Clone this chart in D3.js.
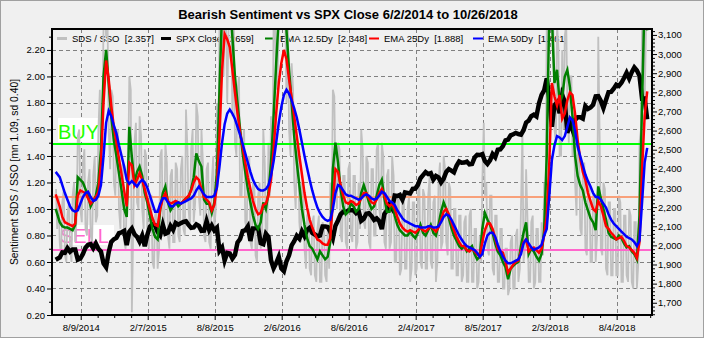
<!DOCTYPE html>
<html>
<head>
<meta charset="utf-8">
<script src="https://cdn.jsdelivr.net/npm/d3@7"></script>
<style>
  body { margin: 0; background: #f0f0f0; }
  svg { display: block; }
  text { font-family: "Liberation Sans", Arial, sans-serif; }
</style>
</head>
<body>
<svg id="chart" width="704" height="338"></svg>
<script>
// ---- data -------------------------------------------------------------
const firstDate = "6/2/2014";
const lastDate = "10/26/2018";

const xTickLabels = ["8/9/2014", "2/7/2015", "8/8/2015", "2/6/2016", "8/6/2016",
                     "2/4/2017", "8/5/2017", "2/3/2018", "8/4/2018"];
const leftTicks = [0.2, 0.4, 0.6, 0.8, 1.0, 1.2, 1.4, 1.6, 1.8, 2.0, 2.2];
const rightTicks = [1700, 1800, 1900, 2000, 2100, 2200, 2300, 2400, 2500,
                    2600, 2700, 2800, 2900, 3000, 3100];

// reference levels: mean + sd, mean, mean - sd
const levelBuy = 1.49, levelMean = 1.09, levelSell = 0.69;

// SDS / SSO ratio, sampled Tuesday and Friday of each week
const sdsSso = [
  1.15,0.85, 1.10,0.75, 0.62,1.05, 1.15,0.65, 0.60,0.95,
  1.05,0.70, 0.60,1.10, 1.20,0.75, 0.95,1.55, 1.60,1.00,
  0.90,1.35, 1.45,0.85, 0.80,1.20, 1.30,0.80, 0.75,1.25,
  1.40,0.90, 0.95,1.60, 1.90,1.40, 1.70,2.40, 2.50,2.30,
  2.40,1.60, 1.30,1.90, 1.85,1.20, 1.10,1.55, 1.60,1.00,
  0.85,1.30, 1.35,0.75, 0.70,1.10, 1.30,2.00, 1.90,0.22,
  0.90,1.50, 1.65,1.05, 1.00,1.70, 1.55,1.00, 0.85,1.45,
  1.40,0.80, 0.70,1.10, 1.10,0.60, 0.55,0.95, 1.00,0.55,
  0.70,1.40, 1.45,0.90, 0.85,1.50, 1.35,0.80, 0.70,1.25,
  1.30,0.75, 0.75,1.35, 1.30,0.80, 0.75,1.30, 1.40,0.85,
  0.80,1.75, 1.45,1.00, 0.85,1.45, 1.60,0.90, 1.05,1.80,
  1.70,1.10, 0.95,1.60, 1.35,0.80, 0.75,1.30, 1.35,0.75,
  0.70,1.20, 1.40,0.85, 1.00,1.80, 1.50,2.40, 2.40,2.40,
  2.00,2.40, 2.40,1.80, 2.40,2.40, 2.40,1.70, 2.40,1.50,
  1.40,1.90, 2.00,1.10, 1.10,1.50, 1.60,0.90, 0.85,1.35,
  1.40,0.75, 0.70,1.20, 1.15,0.65, 0.60,1.10, 1.20,0.70,
  0.80,1.60, 1.35,0.75, 0.85,1.50, 1.10,1.70, 1.40,2.40,
  2.40,1.90, 2.00,2.40, 2.40,2.40, 2.40,2.40, 2.40,1.80,
  2.40,1.60, 1.40,2.10, 1.90,1.20, 1.00,1.40, 1.50,0.90,
  0.75,1.20, 1.15,0.70, 0.55,0.95, 1.00,0.55, 0.50,0.90,
  0.95,0.50, 0.45,0.85, 0.95,0.45, 0.45,0.90, 0.85,0.50,
  0.45,0.85, 0.55,1.20, 1.00,1.90, 1.85,1.20, 1.00,1.50,
  1.45,0.80, 0.75,1.25, 1.25,0.75, 0.70,1.30, 1.35,0.80,
  0.75,1.25, 1.25,0.70, 0.75,1.20, 0.85,1.60, 1.45,0.90,
  0.85,1.40, 1.35,0.75, 0.70,1.30, 1.30,0.80, 0.80,1.45,
  1.50,1.00, 0.90,1.50, 1.40,0.75, 0.70,1.25, 1.30,0.70,
  0.75,1.40, 1.25,0.60, 0.60,1.10, 1.10,0.50, 0.55,1.05,
  1.05,0.55, 0.55,1.00, 1.10,0.45, 0.55,1.05, 1.05,0.50,
  0.55,1.10, 1.20,0.60, 0.55,1.15, 1.10,0.55, 0.55,1.10,
  1.25,0.60, 0.55,1.05, 1.10,0.45, 0.60,1.20, 1.35,0.70,
  0.75,1.40, 1.30,0.75, 0.65,1.20, 1.15,0.55, 0.55,1.00,
  1.00,0.50, 0.50,0.95, 0.95,0.45, 0.50,0.90, 0.95,0.45,
  0.45,0.95, 1.00,0.45, 0.45,0.85, 0.85,0.40, 0.45,0.80,
  0.60,1.20, 1.65,1.10, 1.20,0.70, 0.65,1.10, 1.10,0.55,
  0.50,0.95, 0.95,0.45, 0.45,0.85, 0.85,0.40, 0.40,0.70,
  0.70,0.35, 0.40,0.75, 0.80,0.40, 0.40,0.80, 0.85,0.45,
  0.55,1.00, 1.60,0.60, 0.70,1.30, 0.90,0.45, 0.45,0.90,
  0.95,0.40, 0.45,0.85, 0.85,0.45, 0.45,0.90, 0.65,1.20,
  1.00,2.40, 2.40,2.40, 2.40,2.40, 2.40,1.60, 1.50,2.40,
  2.20,1.40, 1.40,2.20, 1.60,2.30, 2.40,1.80, 1.50,2.00,
  2.00,1.40, 1.70,1.20, 0.95,1.50, 1.45,0.85, 0.80,1.30,
  1.35,0.70, 0.65,1.20, 1.20,0.60, 0.60,1.10, 1.10,0.60,
  0.80,2.30, 1.50,0.70, 0.65,1.20, 1.15,0.55, 0.50,1.05,
  1.05,0.50, 0.50,1.00, 1.00,0.50, 0.50,1.10, 1.05,0.45,
  0.45,0.95, 0.95,0.50, 0.45,1.00, 0.95,0.45, 0.40,0.90,
  0.90,0.40, 0.60,1.50, 1.60,2.40, 2.40,1.80, 2.40,2.357
];

// S&P 500 close, weekly
const spxClose = [
  1925,1937,1963,1961,1985,1967,1978,1978,1925,1931,
  1955,1988,2003,2007,1985,2010,1982,1967,1906,1886,
  1964,2018,2032,2039,2064,2068,2075,2002,2071,2088,
  2058,2045,2019,2051,1995,2055,2097,2110,2105,2071,
  2053,2108,2061,2067,2102,2081,2117,2108,2116,2123,
  2126,2107,2092,2094,2110,2102,2076,2077,2127,2080,
  2104,2078,2092,1971,1989,1921,1961,1958,1931,1951,
  2015,2033,2075,2079,2099,2023,2089,2090,2092,2012,
  2006,2061,2044,1922,1880,1907,1940,1880,1865,1917,
  1948,2000,2022,2050,2035,2073,2048,2081,2092,2065,
  2057,2047,2052,2099,2099,2096,2071,2037,2103,2130,
  2162,2175,2174,2183,2184,2184,2169,2180,2128,2139,
  2165,2168,2153,2133,2141,2126,2085,2164,2182,2213,
  2192,2260,2258,2264,2239,2277,2274,2271,2295,2297,
  2316,2351,2367,2383,2373,2378,2344,2363,2355,2329,
  2349,2384,2399,2391,2382,2416,2439,2432,2433,2438,
  2423,2425,2459,2473,2472,2477,2441,2426,2444,2477,
  2461,2500,2502,2519,2549,2553,2575,2581,2588,2582,
  2579,2602,2642,2652,2675,2683,2674,2743,2786,2810,
  2873,2762,2620,2732,2747,2691,2786,2752,2588,2641,
  2604,2656,2670,2670,2663,2728,2713,2721,2735,2779,
  2780,2755,2718,2760,2801,2802,2819,2840,2833,2850,
  2875,2902,2872,2905,2930,2914,2886,2767,2768,2659
];

// 12.5 day EMA of the ratio, weekly
const ema12 = [
  1.00,0.90,0.87,0.86,0.86,0.85,0.84,0.88,1.24,1.22,
  1.20,1.15,1.10,1.02,1.06,1.10,1.20,1.45,2.00,2.20,
  1.95,1.70,1.52,1.40,1.27,1.14,1.00,0.94,1.62,1.39,
  1.20,1.28,1.32,1.25,1.12,1.05,0.95,0.85,0.79,0.77,
  1.00,1.12,1.17,1.05,0.99,1.02,1.05,1.02,1.04,1.06,
  1.08,1.09,1.15,1.24,1.42,1.36,1.32,1.07,1.04,1.04,
  0.97,1.05,1.27,1.90,2.50,2.70,2.45,2.60,2.30,2.00,
  1.80,1.60,1.42,1.28,1.15,1.05,0.95,0.88,0.85,0.90,
  1.05,1.00,1.12,1.35,1.70,2.10,2.45,2.55,2.60,2.35,
  2.05,1.80,1.55,1.35,1.18,1.00,0.88,0.78,0.72,0.70,
  0.66,0.62,0.68,0.65,0.62,0.64,0.75,1.30,1.50,1.35,
  1.15,1.02,0.96,0.98,1.04,1.02,0.98,1.00,1.12,1.18,
  1.12,1.05,1.00,1.02,1.10,1.18,1.22,1.08,0.98,0.98,
  1.05,0.95,0.88,0.84,0.82,0.80,0.80,0.83,0.80,0.78,
  0.82,0.88,0.82,0.80,0.84,0.88,0.82,0.80,0.88,0.98,
  1.05,1.00,0.93,0.86,0.80,0.76,0.72,0.70,0.72,0.68,
  0.70,0.72,0.66,0.62,0.64,0.85,0.97,0.92,0.88,0.82,
  0.74,0.68,0.65,0.60,0.56,0.47,0.55,0.57,0.59,0.60,
  0.72,0.82,0.90,0.66,0.70,0.68,0.64,0.61,0.66,0.84,
  1.40,2.50,2.45,1.95,2.05,1.80,1.85,2.00,2.05,1.92,
  1.70,1.40,1.25,1.18,1.14,1.05,0.99,0.93,0.90,0.84,
  1.17,1.08,1.00,0.92,0.82,0.79,0.78,0.77,0.80,0.78,
  0.74,0.71,0.72,0.68,0.66,0.62,0.95,1.80,2.60,2.348
];

// 25 day EMA of the ratio, weekly
const ema25 = [
  1.11,1.02,0.94,0.90,0.89,0.88,0.87,0.89,1.10,1.14,
  1.13,1.12,1.08,1.04,1.06,1.09,1.13,1.35,1.80,2.12,
  1.98,1.78,1.62,1.50,1.38,1.26,1.14,1.02,1.35,1.33,
  1.18,1.22,1.27,1.22,1.15,1.07,1.00,0.93,0.88,0.87,
  1.00,1.08,1.12,1.06,1.04,1.05,1.06,1.05,1.04,1.06,
  1.08,1.10,1.14,1.20,1.24,1.22,1.15,1.09,1.07,1.05,
  0.99,1.03,1.17,1.55,2.05,2.32,2.28,2.22,2.05,1.88,
  1.72,1.58,1.46,1.35,1.24,1.15,1.06,1.00,0.96,0.97,
  1.03,1.04,1.10,1.22,1.45,1.72,1.95,2.10,2.20,2.13,
  1.98,1.84,1.70,1.55,1.40,1.26,1.12,1.01,0.92,0.86,
  0.81,0.77,0.76,0.74,0.73,0.73,0.78,1.05,1.30,1.28,
  1.18,1.10,1.05,1.04,1.06,1.05,1.03,1.04,1.08,1.12,
  1.12,1.08,1.05,1.04,1.07,1.12,1.15,1.10,1.04,1.02,
  1.04,1.00,0.94,0.89,0.86,0.84,0.83,0.84,0.83,0.82,
  0.84,0.86,0.84,0.83,0.85,0.87,0.85,0.83,0.86,0.92,
  0.98,1.00,0.96,0.90,0.84,0.79,0.75,0.72,0.72,0.69,
  0.68,0.70,0.68,0.66,0.64,0.75,0.84,0.89,0.89,0.85,
  0.78,0.70,0.68,0.67,0.60,0.52,0.55,0.58,0.60,0.61,
  0.68,0.75,0.77,0.68,0.70,0.71,0.69,0.67,0.70,0.80,
  0.95,1.35,1.95,1.85,1.78,1.86,1.68,1.72,1.82,1.88,
  1.86,1.72,1.52,1.38,1.28,1.22,1.12,1.06,1.00,0.98,
  1.06,1.02,0.95,0.87,0.85,0.82,0.80,0.77,0.78,0.79,
  0.76,0.72,0.71,0.69,0.67,0.63,0.75,1.30,1.70,1.888
];

// 50 day EMA of the ratio, weekly
const ema50 = [
  1.28,1.24,1.18,1.12,1.07,1.02,0.99,0.98,0.99,1.04,
  1.09,1.12,1.13,1.09,1.06,1.07,1.10,1.18,1.40,1.65,
  1.74,1.70,1.63,1.57,1.48,1.40,1.32,1.22,1.19,1.21,
  1.19,1.17,1.20,1.22,1.20,1.16,1.10,1.04,0.98,0.98,
  1.04,1.08,1.08,1.05,1.02,1.02,1.04,1.05,1.04,1.05,
  1.06,1.07,1.08,1.10,1.14,1.17,1.14,1.11,1.09,1.09,
  1.09,1.10,1.16,1.32,1.50,1.64,1.72,1.75,1.72,1.68,
  1.62,1.56,1.49,1.42,1.35,1.28,1.22,1.18,1.15,1.14,
  1.14,1.15,1.18,1.25,1.36,1.50,1.65,1.77,1.86,1.90,
  1.87,1.82,1.76,1.69,1.60,1.50,1.40,1.31,1.22,1.14,
  1.07,1.01,0.97,0.94,0.92,0.91,0.92,1.00,1.12,1.18,
  1.17,1.14,1.11,1.10,1.10,1.09,1.08,1.07,1.08,1.10,
  1.11,1.10,1.08,1.07,1.08,1.10,1.13,1.12,1.09,1.06,
  1.05,1.03,0.99,0.96,0.93,0.91,0.90,0.89,0.88,0.87,
  0.87,0.86,0.86,0.86,0.87,0.87,0.86,0.86,0.87,0.90,
  0.94,0.96,0.95,0.92,0.88,0.84,0.80,0.77,0.74,0.72,
  0.71,0.70,0.69,0.67,0.64,0.66,0.74,0.80,0.82,0.82,
  0.79,0.73,0.68,0.64,0.61,0.59,0.59,0.60,0.61,0.62,
  0.66,0.74,0.77,0.74,0.71,0.69,0.70,0.71,0.73,0.80,
  0.85,1.10,1.37,1.48,1.55,1.54,1.52,1.55,1.62,1.69,
  1.67,1.59,1.47,1.40,1.33,1.26,1.21,1.17,1.12,1.09,
  1.09,1.07,1.04,1.01,0.96,0.92,0.89,0.87,0.85,0.83,
  0.81,0.79,0.78,0.77,0.75,0.72,0.76,1.05,1.35,1.461
];

// ---- layout -----------------------------------------------------------
const W = 704, H = 338;
const P = { left: 52, right: 652, top: 29, bottom: 315 };
const FONT = 9.5;

const parseMDY = s => { const [m, d, y] = s.split("/").map(Number); return new Date(y, m - 1, d); };
const endStop = d3.timeDay.offset(parseMDY(lastDate), 1);

// weekly series: first session, then the Friday closes through the last date
const dates = [parseMDY(firstDate)].concat(d3.timeFriday.range(parseMDY("6/13/2014"), endStop));
// ratio series: Tuesday and Friday of every week
const ratioDates = d3.timeTuesday.range(parseMDY(firstDate), endStop)
  .concat(d3.timeFriday.range(parseMDY(firstDate), endStop))
  .sort((a, b) => a - b);

const x = d3.scaleTime()
  .domain([parseMDY("5/23/2014"), parseMDY("11/8/2018")])
  .range([P.left, P.right]);
const yL = d3.scaleLinear().domain([0.2, 2.358]).range([P.bottom, P.top]);
const yR = d3.scaleLinear().domain([1636, 3131]).range([P.bottom, P.top]);

const svg = d3.select("#chart");
svg.append("rect").attr("width", W).attr("height", H).attr("fill", "#f0f0f0");
svg.append("rect").attr("x", 0.5).attr("y", 0.5).attr("width", W - 1).attr("height", H - 1)
  .attr("fill", "none").attr("stroke", "#a0a0a0");

svg.append("defs").append("clipPath").attr("id", "plotClip")
  .append("rect").attr("x", P.left).attr("y", P.top)
  .attr("width", P.right - P.left).attr("height", P.bottom - P.top);

// ---- title ------------------------------------------------------------
svg.append("text").attr("x", 348).attr("y", 19).attr("text-anchor", "middle")
  .attr("font-size", 13).attr("font-weight", "bold").attr("fill", "#000")
  .text(`Bearish Sentiment vs SPX Close ${firstDate} to ${lastDate}`);

// ---- grid -------------------------------------------------------------
const xTickDates = xTickLabels.map(parseMDY);
const grid = svg.append("g").attr("stroke", "#808080").attr("stroke-width", 1)
  .attr("stroke-dasharray", "4,3");
grid.selectAll("line.v").data(xTickDates).join("line")
  .attr("x1", d => Math.round(x(d)) + 0.5).attr("x2", d => Math.round(x(d)) + 0.5)
  .attr("y1", P.top).attr("y2", P.bottom);
grid.selectAll("line.h").data(leftTicks.slice(1)).join("line")
  .attr("y1", d => Math.round(yL(d)) + 0.5).attr("y2", d => Math.round(yL(d)) + 0.5)
  .attr("x1", P.left).attr("x2", P.right);

// ---- BUY / SELL zone labels ------------------------------------------
const zone = svg.append("g");
zone.append("rect").attr("x", 58).attr("y", 118).attr("width", 40).attr("height", 24).attr("fill", "#fff");
zone.append("text").attr("x", 58).attr("y", 139).attr("font-size", 20)
  .attr("fill", "#22ff00").text("BUY");
zone.append("rect").attr("x", 60).attr("y", 225).attr("width", 54).attr("height", 20).attr("fill", "#fff");
zone.append("text").attr("x", 60).attr("y", 243).attr("font-size", 20)
  .attr("fill", "#ff66cc").text("SELL");

// ---- legend (sits under the series) ----------------------------------
const last = a => a[a.length - 1];
const legendItems = [
  { label: "SDS / SSO", value: d3.format(".3f")(last(sdsSso)), color: "#c0c0c0", w: 3 },
  { label: "SPX Close", value: d3.format("d")(last(spxClose)), color: "#000", w: 3 },
  { label: "EMA 12.5Dy", value: d3.format(".3f")(last(ema12)), color: "#008000", w: 2 },
  { label: "EMA 25Dy", value: d3.format(".3f")(last(ema25)), color: "#ff0000", w: 2 },
  { label: "EMA 50Dy", value: d3.format(".3f")(last(ema50)), color: "#0000ff", w: 2 }
];
const legend = svg.append("g");
legendItems.forEach((it, i) => {
  const x0 = 57 + i * 104;
  legend.append("line").attr("x1", x0).attr("x2", x0 + 10).attr("y1", 38.5).attr("y2", 38.5)
    .attr("stroke", it.color).attr("stroke-width", it.w);
  legend.append("text").attr("x", x0 + 15).attr("y", 42).attr("font-size", FONT)
    .style("white-space", "pre").attr("fill", "#000")
    .text(`${it.label}  [${it.value}]`);
});

// ---- series -----------------------------------------------------------
const plot = svg.append("g").attr("clip-path", "url(#plotClip)");
const pathOn = (ds, y) => arr => d3.line().x((d, i) => x(ds[i])).y(d => y(d))(arr);
const lineL = pathOn(dates, yL);
const lineR = pathOn(dates, yR);

plot.append("path").attr("d", pathOn(ratioDates, yL)(sdsSso)).attr("fill", "none")
  .attr("stroke", "#c0c0c0").attr("stroke-width", 1.8);

const levels = [
  { v: levelBuy, c: "#00ff00" },
  { v: levelMean, c: "#f8a07a" },
  { v: levelSell, c: "#ff66cc" }
];
plot.selectAll("line.level").data(levels).join("line")
  .attr("x1", P.left).attr("x2", P.right)
  .attr("y1", d => yL(d.v)).attr("y2", d => yL(d.v))
  .attr("stroke", d => d.c).attr("stroke-width", 2);

plot.append("path").attr("d", lineR(spxClose)).attr("fill", "none")
  .attr("stroke", "#000").attr("stroke-width", 4.5).attr("stroke-linejoin", "miter");

[[ema12, "#008000"], [ema25, "#ff0000"], [ema50, "#0000ff"]].forEach(([arr, c]) => {
  plot.append("path").attr("d", lineL(arr)).attr("fill", "none")
    .attr("stroke", c).attr("stroke-width", 2.5);
});

// ---- axes -------------------------------------------------------------
function styleAxis(g) {
  g.select(".domain").remove();
  g.selectAll("text").attr("font-size", FONT).attr("fill", "#000")
    .attr("font-family", "\"Liberation Sans\", Arial, sans-serif");
  g.selectAll("line").attr("stroke", "#000");
}

// minor ticks
const leftMinor = d3.range(0.3, 2.36, 0.1).filter(v => Math.abs(v * 5 - Math.round(v * 5)) > 1e-6);
svg.append("g").attr("transform", `translate(${P.left},0)`)
  .call(d3.axisLeft(yL).tickValues(leftMinor).tickFormat("").tickSize(3)).call(styleAxis);
const rightMinor = d3.range(1640, 3131, 20).filter(v => v % 100 !== 0);
svg.append("g").attr("transform", `translate(${P.right},0)`)
  .call(d3.axisRight(yR).tickValues(rightMinor).tickFormat("").tickSize(3)).call(styleAxis);
const xMinor = [];
for (let k = -2; k <= 41; k++) {
  const d = d3.timeDay.offset(xTickDates[0], Math.round(k * 45.5));
  if (d >= x.domain()[0] && d <= x.domain()[1] && k % 4 !== 0) xMinor.push(d);
}
svg.append("g").attr("transform", `translate(0,${P.bottom})`)
  .call(d3.axisBottom(x).tickValues(xMinor).tickFormat("").tickSize(3)).call(styleAxis);

// major ticks and labels
svg.append("g").attr("transform", `translate(${P.left},0)`)
  .call(d3.axisLeft(yL).tickValues(leftTicks).tickFormat(d3.format(".2f")).tickSize(5).tickPadding(2))
  .call(styleAxis);
svg.append("g").attr("transform", `translate(${P.right},0)`)
  .call(d3.axisRight(yR).tickValues(rightTicks).tickFormat(d3.format(",")).tickSize(5).tickPadding(1))
  .call(styleAxis);
svg.append("g").attr("transform", `translate(0,${P.bottom})`)
  .call(d3.axisBottom(x).tickValues(xTickDates)
    .tickFormat((d, i) => xTickLabels[i]).tickSize(5).tickPadding(4))
  .call(styleAxis);

// plot frame
svg.append("rect").attr("x", P.left).attr("y", P.top)
  .attr("width", P.right - P.left).attr("height", P.bottom - P.top)
  .attr("fill", "none").attr("stroke", "#000").attr("stroke-width", 2);

// y-axis title
svg.append("text")
  .attr("transform", `translate(18,${(P.top + P.bottom) / 2}) rotate(-90)`)
  .attr("text-anchor", "middle").attr("font-size", 10.3).attr("fill", "#000")
  .text("Sentiment SDS / SSO [mn 1.09, sd 0.40]");
</script>
</body>
</html>
